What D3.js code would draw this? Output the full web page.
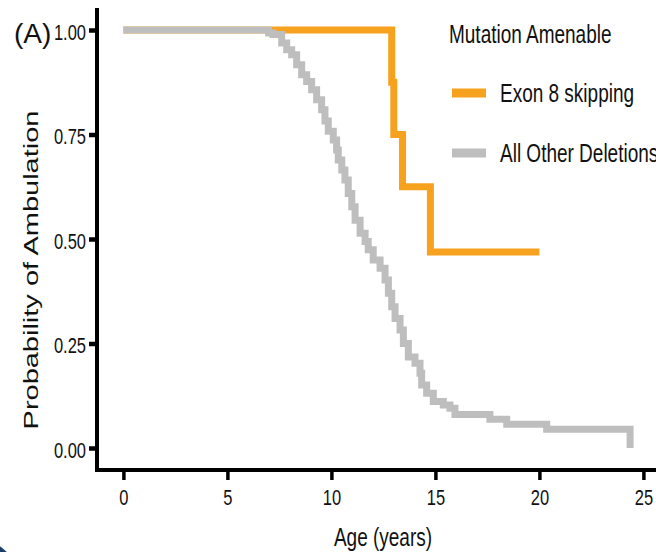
<!DOCTYPE html>
<html>
<head>
<meta charset="utf-8">
<script src="https://cdn.jsdelivr.net/npm/d3@7"></script>
<style>
  html, body { margin: 0; padding: 0; background: #fff; }
  svg { display: block; }
  text { font-family: "Liberation Sans", Arial, sans-serif; fill: #111; }
</style>
</head>
<body>
<svg id="chart" width="656" height="552"></svg>
<script>
// Kaplan–Meier curves: probability of remaining ambulatory by age
const xTicks = [0, 5, 10, 15, 20, 25];
const yTicks = [0, 0.25, 0.5, 0.75, 1];

const exon8Age  = [0, 12.9, 13.0, 13.42, 14.76, 20.0];
const exon8Surv = [1, 0.875, 0.75, 0.625, 0.469, 0.469];

const otherAge  = [0, 6.98, 7.19, 7.61, 7.85, 8.09, 8.33, 8.57, 8.81, 9.05, 9.29, 9.53, 9.69, 9.85,
                   10.09, 10.25, 10.33, 10.50, 10.65, 10.81, 10.98, 11.14, 11.38, 11.62, 11.77, 12.01,
                   12.34, 12.58, 12.74, 12.90, 13.06, 13.30, 13.46, 13.70, 14.02, 14.26, 14.34, 14.58,
                   14.90, 15.38, 15.70, 15.94, 17.62, 18.43, 20.35, 24.36];
const otherSurv = [1, 0.993, 0.989, 0.969, 0.953, 0.941, 0.917, 0.893, 0.877, 0.857, 0.833, 0.809, 0.782, 0.758,
                   0.737, 0.713, 0.689, 0.665, 0.641, 0.609, 0.577, 0.545, 0.514, 0.494, 0.474, 0.450,
                   0.430, 0.402, 0.370, 0.338, 0.310, 0.282, 0.250, 0.218, 0.203, 0.179, 0.151, 0.131,
                   0.111, 0.103, 0.095, 0.080, 0.069, 0.057, 0.045, 0];

const legendTitle = "Mutation Amenable";
const seriesNames = ["Exon 8 skipping", "All Other Deletions"];
const seriesColors = ["#F7A21E", "#BEBEBE"];

const svg = d3.select("#chart");
const SY = 1.38; // vertical text stretch

const x = d3.scaleLinear().domain([0, 25]).range([123.4, 643.4]);
const y = d3.scaleLinear().domain([0, 1]).range([448, 30]);

// small decorative corner arc
svg.append("circle").attr("cx", -40).attr("cy", 600).attr("r", 67).attr("fill", "#1d3e6b");

// step curves (grey drawn over orange)
const line = d3.line()
  .x(d => x(d[0])).y(d => y(d[1]))
  .curve(d3.curveStepAfter);

const series = [
  { name: seriesNames[0], color: seriesColors[0], pts: exon8Age.map((a, i) => [a, exon8Surv[i]]) },
  { name: seriesNames[1], color: seriesColors[1], pts: otherAge.map((a, i) => [a, otherSurv[i]]) }
];

svg.append("g").selectAll("path").data(series).join("path")
  .attr("d", d => line(d.pts))
  .attr("fill", "none")
  .attr("stroke", d => d.color)
  .attr("stroke-width", 7)
  .attr("stroke-linejoin", "miter")
  .attr("stroke-linecap", "butt");

// axes
const xAxis = d3.axisBottom(x).tickValues(xTicks).tickFormat(d3.format("d"))
  .tickSize(10).tickSizeOuter(0);
const gx = svg.append("g").attr("transform", "translate(0,470)").call(xAxis);
gx.select(".domain").remove();
gx.selectAll(".tick line").attr("stroke", "#000").attr("stroke-width", 3.5);
gx.selectAll(".tick text")
  .attr("y", null).attr("dy", null)
  .attr("transform", `translate(0,35) scale(1,${SY})`)
  .attr("text-anchor", "middle")
  .style("font-size", "16.5px").style("fill", "#111");

const yAxis = d3.axisLeft(y).tickValues(yTicks).tickFormat(d3.format(".2f"))
  .tickSize(8).tickSizeOuter(0);
const gy = svg.append("g").attr("transform", "translate(97,0)").call(yAxis);
gy.select(".domain").remove();
gy.selectAll(".tick line").attr("stroke", "#000").attr("stroke-width", 4.5);
gy.selectAll(".tick text")
  .attr("x", null).attr("dy", null)
  .attr("transform", `translate(-11,9) scale(1,${SY})`)
  .attr("text-anchor", "end")
  .style("font-size", "16.5px").style("fill", "#111");

// axis lines
svg.append("line").attr("x1", 97).attr("x2", 97).attr("y1", 8).attr("y2", 472)
  .attr("stroke", "#000").attr("stroke-width", 4);
svg.append("line").attr("x1", 95).attr("x2", 656).attr("y1", 470).attr("y2", 470)
  .attr("stroke", "#000").attr("stroke-width", 4);

// axis titles
svg.append("text")
  .attr("transform", `translate(383,546) scale(1,${SY})`)
  .attr("text-anchor", "middle")
  .style("font-size", "19px")
  .text("Age (years)");

svg.append("text")
  .attr("transform", `translate(37.5,270) scale(1,${SY}) rotate(-90)`)
  .attr("text-anchor", "middle")
  .style("font-size", "21px")
  .text("Probability of Ambulation");

// panel tag
svg.append("text")
  .attr("x", 14).attr("y", 42.5)
  .style("font-size", "28px")
  .text("(A)");

// legend
const lg = svg.append("g");
lg.append("text")
  .attr("transform", `translate(449,43) scale(1,${SY})`)
  .style("font-size", "19px")
  .text(legendTitle);

const items = lg.selectAll("g.item").data(series).join("g")
  .attr("class", "item")
  .attr("transform", (d, i) => `translate(0,${93 + i * 60})`);
items.append("rect")
  .attr("x", 452).attr("y", -4.5).attr("width", 34).attr("height", 9)
  .attr("fill", d => d.color);
items.append("text")
  .attr("transform", `translate(500,8.8) scale(1,${SY})`)
  .style("font-size", "19px")
  .text(d => d.name);
</script>
</body>
</html>
